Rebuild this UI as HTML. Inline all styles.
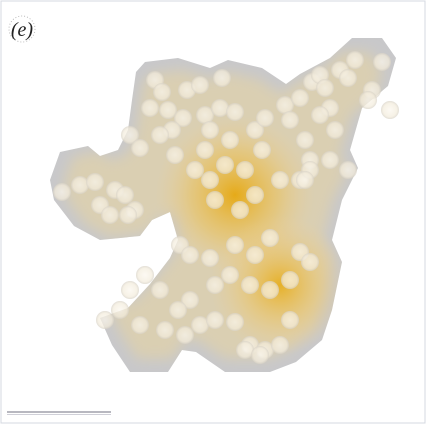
<!DOCTYPE html>
<html><head><meta charset="utf-8"><style>
html,body{margin:0;padding:0;background:#fff;width:427px;height:425px;overflow:hidden}
svg{display:block}
</style></head><body>
<svg width="427" height="425" viewBox="0 0 427 425">
<defs>
<path id="blob" d="M60,152 L88,146 L100,156 L118,150 L128,130 L132,100 L136,72 L145,62 L178,58 L210,68 L228,60 L262,68 L286,84 L300,74 L330,58 L352,38 L382,38 L396,58 L388,86 L362,108 L350,150 L358,168 L342,200 L332,240 L342,262 L332,310 L322,340 L296,362 L270,372 L225,372 L196,352 L182,350 L168,372 L130,372 L112,345 L100,318 L128,308 L150,284 L170,258 L178,240 L170,212 L152,220 L140,236 L100,240 L74,226 L54,200 L50,180 Z"/>
<clipPath id="clip"><use href="#blob"/></clipPath>
<filter id="bl" x="-20%" y="-20%" width="140%" height="140%"><feGaussianBlur stdDeviation="7"/></filter>
<radialGradient id="y1" cx="235" cy="195" r="80" gradientUnits="userSpaceOnUse">
<stop offset="0" stop-color="#e6a810" stop-opacity="0.95"/><stop offset="0.55" stop-color="#ecbf50" stop-opacity="0.5"/><stop offset="1" stop-color="#f0d090" stop-opacity="0"/></radialGradient>
<radialGradient id="y2" cx="280" cy="285" r="70" gradientUnits="userSpaceOnUse">
<stop offset="0" stop-color="#e8ad18" stop-opacity="0.9"/><stop offset="0.55" stop-color="#eec460" stop-opacity="0.45"/><stop offset="1" stop-color="#f0d090" stop-opacity="0"/></radialGradient>
<radialGradient id="cg"><stop offset="0" stop-color="#fbf7ee"/><stop offset="0.75" stop-color="#f3ecdc"/><stop offset="1" stop-color="#d8d2c6"/></radialGradient>
</defs>
<rect x="1" y="1" width="424" height="422" fill="#fff" stroke="#d4d8e0"/>
<g>
<circle cx="22" cy="29" r="13" fill="#fff" stroke="#bbb" stroke-dasharray="1 2"/>
<text x="22" y="36" text-anchor="middle" font-family="Liberation Serif, serif" font-size="20" font-style="italic" fill="#222">(e)</text>
</g>
<use href="#blob" fill="#c8c8ca"/>
<g clip-path="url(#clip)">
<use href="#blob" fill="#ddd0ae" fill-opacity="0.85" filter="url(#bl)" transform="translate(224,210) scale(0.92) translate(-224,-210)"/>
<rect x="40" y="30" width="370" height="350" fill="url(#y1)"/>
<rect x="40" y="30" width="370" height="350" fill="url(#y2)"/>
</g>
<g id="cells"></g>
<g>
<rect x="7" y="411" width="104" height="2" fill="#b8b8c0"/>
<rect x="7" y="414" width="104" height="1" fill="#d0d0d8"/>
</g>
</svg>
<script>
const cellX=[155,162,187,200,222,150,168,183,205,220,235,172,210,160,130,140,175,205,230,255,265,285,300,312,320,340,355,348,372,382,390,368,325,330,290,305,262,245,225,210,195,215,240,255,280,300,310,330,348,335,310,305,62,80,95,115,125,135,100,110,128,180,190,210,235,255,270,300,310,290,270,250,230,215,190,178,160,145,130,120,105,140,165,185,200,215,235,250,265,280,290,245,260,320];
const cellY=[80,92,90,85,78,108,110,118,115,108,112,130,130,135,135,148,155,150,140,130,118,105,98,82,75,70,60,78,90,62,110,100,88,108,120,140,150,170,165,180,170,200,210,195,180,180,160,160,170,130,170,180,192,185,182,190,195,210,205,215,215,245,255,258,245,255,238,252,262,280,290,285,275,285,300,310,290,275,290,310,320,325,330,335,325,320,322,345,350,345,320,350,355,115];
const g=document.getElementById('cells');
const NS='http://www.w3.org/2000/svg';
for(let i=0;i<cellX.length;i++){
 const c=document.createElementNS(NS,'circle');
 c.setAttribute('cx',cellX[i]);c.setAttribute('cy',cellY[i]);c.setAttribute('r',9);
 c.setAttribute('fill','url(#cg)');c.setAttribute('fill-opacity','0.72');
 
 
 g.appendChild(c);
}
</script>
</body></html>
